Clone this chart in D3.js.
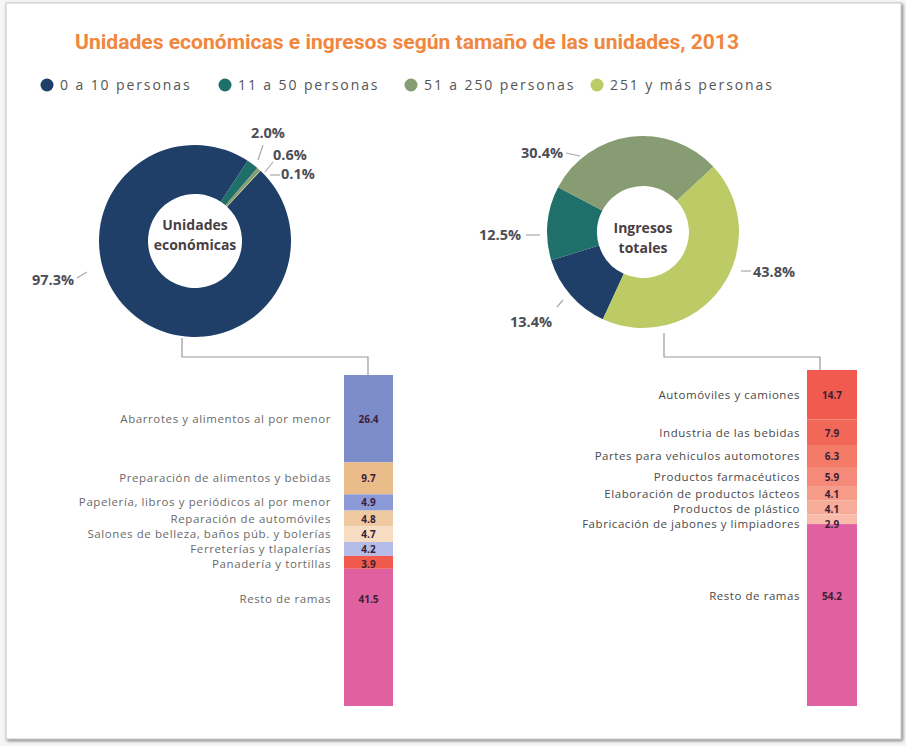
<!DOCTYPE html>
<html><head><meta charset="utf-8">
<script src="https://cdn.jsdelivr.net/npm/d3@7"></script>
<style>
html,body{margin:0;padding:0;background:#fff;}
svg{display:block;}
</style></head><body>
<svg id="chart" width="906" height="746"></svg>
<script>
// ---------- DATA ----------
const chartTitle = "Unidades económicas e ingresos según tamaño de las unidades, 2013";
const sizeCategories = ["0 a 10 personas", "11 a 50 personas", "51 a 250 personas", "251 y más personas"];
const sizeColors = ["#1f3f68", "#1f6f6a", "#879c72", "#bccb66"];

const unidadesTitle = ["Unidades", "económicas"];
const unidadesShare = [97.3, 2.0, 0.6, 0.1];
const ingresosTitle = ["Ingresos", "totales"];
const ingresosShare = [13.4, 12.5, 30.4, 43.8];

const unidadesRamas = ["Abarrotes y alimentos al por menor", "Preparación de alimentos y bebidas",
  "Papelería, libros y periódicos al por menor", "Reparación de automóviles",
  "Salones de belleza, baños púb. y bolerías", "Ferreterías y tlapalerías",
  "Panadería y tortillas", "Resto de ramas"];
const unidadesRamasValues = [26.4, 9.7, 4.9, 4.8, 4.7, 4.2, 3.9, 41.5];
const unidadesRamasColors = ["#7d8dc9", "#e9bc8a", "#8b9ad6", "#efc9a0", "#f6dcc1", "#b4bde8", "#ef5a4c", "#df61a0"];

const ingresosRamas = ["Automóviles y camiones", "Industria de las bebidas",
  "Partes para vehiculos automotores", "Productos farmacéuticos",
  "Elaboración de productos lácteos", "Productos de plástico",
  "Fabricación de jabones y limpiadores", "Resto de ramas"];
const ingresosRamasValues = [14.7, 7.9, 6.3, 5.9, 4.1, 4.1, 2.9, 54.2];
const ingresosRamasColors = ["#f05a4f", "#f26858", "#f47a68", "#f48a77", "#f69b88", "#f7ab99", "#f9bcaa", "#df61a0"];

// ---------- LAYOUT ----------
const svg = d3.select("#chart");
const W = 906, H = 746;
const defs = svg.append("defs");
const f = defs.append("filter").attr("id", "sh").attr("x", "-5%").attr("y", "-5%").attr("width", "110%").attr("height", "110%");
f.append("feDropShadow").attr("dx", 1.5).attr("dy", 1.5).attr("stdDeviation", 1.6).attr("flood-color", "#555").attr("flood-opacity", 0.75);

svg.append("rect").attr("x", 0).attr("y", 0).attr("width", W).attr("height", H).attr("fill", "#f6f6f6");
svg.append("rect").attr("x", 6).attr("y", 3).attr("width", 895).attr("height", 736)
  .attr("fill", "#fff").attr("stroke", "#c8c8c8").attr("stroke-width", 1).attr("filter", "url(#sh)");

const FONT = "'Open Sans', 'Noto Sans', 'DejaVu Sans', sans-serif";

// Title
svg.append("text").text(chartTitle)
  .attr("x", 75).attr("y", 49)
  .attr("textLength", 664).attr("lengthAdjust", "spacingAndGlyphs")
  .attr("font-family", "'Liberation Sans Narrow', 'Roboto', " + FONT)
  .attr("font-weight", "bold").attr("font-size", 20).attr("fill", "#f0873e");

// Legend
const legendX = [47, 225, 411, 597];
const legend = svg.append("g");
sizeCategories.forEach((c, i) => {
  legend.append("circle").attr("cx", legendX[i]).attr("cy", 85).attr("r", 6.5).attr("fill", sizeColors[i]);
  legend.append("text").text(c).attr("x", legendX[i] + 13).attr("y", 90)
    .attr("font-family", FONT).attr("font-size", 14).attr("letter-spacing", 1.9).attr("fill", "#555");
});

// Donut helper
function donut(cfg) {
  const g = svg.append("g").attr("transform", `translate(${cfg.cx},${cfg.cy})`);
  const pie = d3.pie().sort(null).value(d => d)
    .startAngle(cfg.start * Math.PI / 180).endAngle(cfg.start * Math.PI / 180 + 2 * Math.PI);
  const arc = d3.arc().innerRadius(cfg.ri).outerRadius(cfg.ro);
  const arcs = pie(cfg.values);
  g.selectAll("path.slice").data(arcs).join("path").attr("class", "slice")
    .attr("d", arc).attr("fill", (d, i) => sizeColors[i]);
  cfg.title.forEach((t, i) => {
    g.append("text").text(t).attr("x", 0).attr("y", cfg.titleY + i * 20)
      .attr("text-anchor", "middle").attr("font-family", FONT).attr("font-weight", "bold")
      .attr("font-size", 14).attr("fill", "#4a4044");
  });
  cfg.labels.forEach(L => {
    const v = cfg.values[L.i];
    g.append("line").attr("x1", L.l[0]).attr("y1", L.l[1]).attr("x2", L.l[2]).attr("y2", L.l[3])
      .attr("stroke", "#aaa").attr("stroke-width", 1.2);
    g.append("text").text(d3.format(".1f")(v) + "%")
      .attr("x", L.t[0]).attr("y", L.t[1]).attr("text-anchor", L.a)
      .attr("font-family", FONT).attr("font-weight", "bold").attr("font-size", 14.5)
      .attr("fill", "#4d4d55");
  });
}

donut({
  cx: 195, cy: 241, ro: 96, ri: 47, start: 43, values: unidadesShare, title: unidadesTitle, titleY: -11,
  labels: [
    { i: 0, l: [-108, 31, -118, 37], t: [-121, 44], a: "end" },
    { i: 1, l: [63, -81, 68, -96], t: [73, -103], a: "middle" },
    { i: 2, l: [70, -69, 78, -79], t: [78, -81], a: "start" },
    { i: 3, l: [75, -66, 85, -66], t: [86, -62], a: "start" }
  ]
});

donut({
  cx: 643, cy: 232, ro: 96, ri: 46, start: 204.7, values: ingresosShare, title: ingresosTitle, titleY: 1,
  labels: [
    { i: 0, l: [-86, 75, -80, 68], t: [-112, 95], a: "middle" },
    { i: 1, l: [-117, 3, -103, 3], t: [-122, 8], a: "end" },
    { i: 2, l: [-77, -79, -63, -76], t: [-80, -74], a: "end" },
    { i: 3, l: [98, 39, 108, 39], t: [110, 45], a: "start" }
  ]
});

// Connectors
const conn = svg.append("g").attr("fill", "none").attr("stroke", "#999").attr("stroke-width", 1.2);
conn.append("path").attr("d", d3.line()([[182, 338], [182, 357], [368, 357], [368, 375]]));
conn.append("path").attr("d", d3.line()([[664, 333], [664, 357], [820, 357], [820, 370]]));

// Stacked bar helper
function stackBar(cfg) {
  const total = d3.sum(cfg.values);
  const y = d3.scaleLinear().domain([0, total]).range([cfg.top, cfg.bottom]);
  const ends = d3.cumsum(cfg.values);
  const segs = cfg.values.map((v, i) => ({ v, i, y0: ends[i] - v, y1: ends[i] }));
  // label positions: segment centres, with a minimum spacing between consecutive labels
  const last = segs.length - 1;
  let prev = -Infinity;
  segs.forEach(d => {
    if (d.i === last) { d.ly = y(d.y0) + cfg.restOffset; return; }
    let c = (y(d.y0) + y(d.y1)) / 2 + 4;
    if (c - prev < cfg.minGap) c = prev + cfg.minGap;
    d.ly = c; prev = c;
  });
  const g = svg.append("g");
  g.selectAll("rect").data(segs).join("rect")
    .attr("x", cfg.x).attr("width", cfg.w)
    .attr("y", d => y(d.y0)).attr("height", d => y(d.y1) - y(d.y0))
    .attr("fill", d => cfg.colors[d.i]);
  g.selectAll("text.v").data(segs).join("text").attr("class", "v")
    .text(d => d3.format(".1f")(d.v))
    .attr("x", cfg.x + cfg.w / 2).attr("y", d => d.ly).attr("text-anchor", "middle")
    .attr("font-family", FONT).attr("font-weight", "bold").attr("font-size", 10)
    .attr("fill", "#3a2038");
  g.selectAll("text.n").data(segs).join("text").attr("class", "n")
    .text(d => cfg.names[d.i])
    .attr("x", cfg.x - cfg.gap).attr("y", d => d.ly).attr("text-anchor", "end")
    .attr("font-family", FONT).attr("font-size", 11.5).attr("letter-spacing", cfg.ls)
    .attr("fill", cfg.textColor);
}

stackBar({ x: 344, w: 49, top: 375, bottom: 706, values: unidadesRamasValues, names: unidadesRamas,
  colors: unidadesRamasColors, restOffset: 34, ls: 0.6, gap: 13, minGap: 15, textColor: "#6a6a6a" });
stackBar({ x: 807, w: 50, top: 370, bottom: 706, values: ingresosRamasValues, names: ingresosRamas,
  colors: ingresosRamasColors, restOffset: 76, ls: 0.55, gap: 7, minGap: 15, textColor: "#4a4a4a" });
</script>
</body></html>
